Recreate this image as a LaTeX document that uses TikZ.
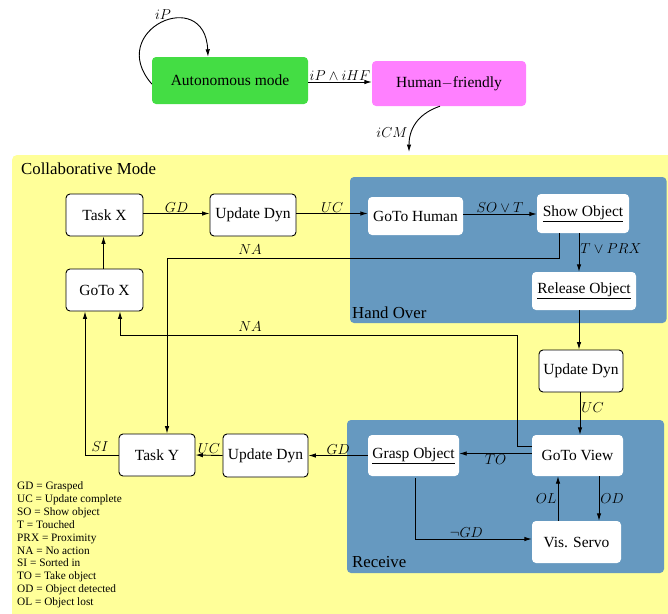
\documentclass[tikz,border=0pt]{standalone}
\usepackage[no-math]{fontspec}
\setmainfont{Liberation Serif}
\usetikzlibrary{arrows.meta,calc}
\definecolor{collabc}{HTML}{FFFF99}
\definecolor{subc}{HTML}{6699C0}
\definecolor{autoc}{HTML}{44DD44}
\definecolor{hfc}{HTML}{FF80FF}
\tikzset{
  arr/.style={draw=black, line width=0.9pt, -{Latex[length=7.5pt,width=4.5pt]}},
  box/.style={draw=black, line width=0.9pt, fill=white, rounded corners=4pt, inner sep=0pt,
    font=\fontsize{15.5}{18}\selectfont},
  wbox/.style={fill=white, rounded corners=4pt, inner sep=0pt, font=\fontsize{15.5}{18}\selectfont},
  topbox/.style={rounded corners=4pt, inner sep=0pt, font=\fontsize{15.5}{18}\selectfont},
  lab/.style={font=\fontsize{14}{16}\selectfont, inner sep=1pt},
  region/.style={font=\fontsize{16.8}{19}\selectfont, inner sep=0pt},
}
\begin{document}
\begin{tikzpicture}[x=1pt,y=-1pt]
\useasboundingbox (0,0) rectangle (668,613);
% regions
\fill[collabc, rounded corners=5pt] (12,625) -- (12,155) -- (680,155) -- (680,625) -- cycle;
\node[region, anchor=west] (collab) at (21,169) {Collaborative Mode};
\fill[subc, rounded corners=4pt] (350,177) rectangle (666.5,323);
\node[region, anchor=west] (hand) at (352,313) {Hand Over};
\fill[subc, rounded corners=4pt] (347,420) rectangle (664,573);
\node[region, anchor=west] (recv) at (352,562) {Receive};
% top nodes
\node[topbox, fill=autoc, minimum width=156pt, minimum height=47pt] (auto) at (230,80.5) {Autonomous mode};
\node[topbox, fill=hfc, minimum width=154pt, minimum height=45pt] (hf) at (449,83.5) {Human$-$friendly};
% collaborative nodes
\node[box, minimum width=77pt, minimum height=42pt] (taskx) at (104.5,215) {Task X};
\node[box, minimum width=86pt, minimum height=42pt] (upd1) at (253,215) {Update Dyn};
\node[box, minimum width=77pt, minimum height=42pt] (gotox) at (104.5,290) {GoTo X};
\node[wbox, minimum width=95pt, minimum height=38pt] (gotoh) at (415.5,216) {GoTo Human};
\node[wbox, minimum width=92pt, minimum height=39pt] (show) at (583,213.5) {\underline{Show Object}};
\node[wbox, minimum width=104pt, minimum height=38pt] (release) at (584,291) {\underline{Release Object}};
\node[box, minimum width=84pt, minimum height=42pt] (upd2) at (581,371) {Update Dyn};
\node[wbox, minimum width=91pt, minimum height=41pt] (gotov) at (577.5,455.5) {GoTo View};
\node[wbox, minimum width=91pt, minimum height=41pt] (grasp) at (413.5,455.5) {\underline{Grasp Object}};
\node[wbox, minimum width=89pt, minimum height=42pt] (vis) at (576.5,542) {Vis. Servo};
\node[box, minimum width=85pt, minimum height=43pt] (upd3) at (265.5,455.5) {Update Dyn};
\node[box, minimum width=76pt, minimum height=42pt] (tasky) at (157,455) {Task Y};
% legend
\node[anchor=north west, align=left, inner sep=0pt, font=\fontsize{11.3}{12.9}\selectfont] (legend) at (17,481.5)
 {GD = Grasped\\UC = Update complete\\SO = Show object\\T = Touched\\PRX = Proximity\\NA = No action\\SI = Sorted in\\TO = Take object\\OD = Object detected\\OL = Object lost};
% top edges
\draw[arr] ([yshift=-3.5pt]auto.west) .. controls +(-47,-54) and +(-3,-72) .. ([xshift=-22pt]auto.north);
\node[lab] (lip) at (163,15) {$iP$};
\draw[arr] ([yshift=-1.5pt]auto.east) -- ([yshift=-1.5pt]auto.east -| hf.west)
  node[lab, midway, above] (liphf) {$iP\wedge iHF$};
\coordinate (icm) at (409,152);
\draw[arr] ([xshift=-9pt]hf.south) .. controls +(-18,6) and +(0,-27) .. (icm);
\node[lab] (licm) at (392,133) {$iCM$};
% collaborative edges
\draw[arr] ([xshift=-1pt]gotox.north) -- ([xshift=-1pt]taskx.south);
\draw[arr] ([yshift=1.5pt]taskx.east) -- ([yshift=1.5pt]taskx.east -| upd1.west)
  node[lab, midway, above] (lgd1) {$GD$};
\draw[arr] ([yshift=1.5pt]upd1.east) -- ([yshift=1.5pt]upd1.east -| gotoh.west)
  node[lab, midway, above] (luc1) {$UC$};
\draw[arr] ([yshift=2pt]gotoh.east) -- ([yshift=2pt]gotoh.east -| show.west)
  node[lab, midway, above] (lsot) {$SO\vee T$};
\draw[arr] ([xshift=-4pt]show.south) -- ([xshift=-4pt]show.south |- release.north)
  node[lab, pos=0.4, right] (ltprx) {$T\vee PRX$};
\coordinate (na1) at (167,258);
\draw[arr] ([xshift=-24pt]show.south) |- (na1) -- ([xshift=10pt]tasky.north);
\node[lab] (lna1) at (250,250) {$NA$};
\draw[arr] ([xshift=-5pt]release.south) -- ([xshift=-5pt]release.south |- upd2.north);
\draw[arr] ([xshift=-1pt]upd2.south) -- ([xshift=-1pt]upd2.south |- gotov.north)
  node[lab, pos=0.35, right] (luc2) {$UC$};
\coordinate (na2) at (517,335);
\draw[arr] ([yshift=9pt]gotov.west) -| (na2) -| ([xshift=15.5pt]gotox.south);
\node[lab] (lna2) at (250,327) {$NA$};
\draw[arr] ([yshift=2pt]gotov.west) -- ([yshift=2pt]gotov.west -| grasp.east)
  node[lab, midway, below] (lto) {$TO$};
\draw[arr] ([xshift=21.5pt]gotov.south) -- ([xshift=21.5pt]gotov.south |- vis.north)
  node[lab, midway, right] (lod) {$OD$};
\draw[arr] ([xshift=-18.5pt]vis.north) -- ([xshift=-18.5pt]vis.north |- gotov.south)
  node[lab, midway, left] (lol) {$OL$};
\draw[arr] ([xshift=1.5pt,yshift=-2pt]grasp.south) |- ([yshift=3pt]vis.west)
  node[lab, pos=0.72, above] (lngd) {$\neg GD$};
\draw[arr] (grasp.west) -- (upd3.east)
  node[lab, midway, above] (lgd2) {$GD$};
\draw[arr] (upd3.west) -- (tasky.east)
  node[lab, midway, above] (luc3) {$UC$};
\draw[arr] (tasky.west) -| ([xshift=-19.5pt]gotox.south);
\node[lab] (lsi) at (100,447) {$SI$};
\end{tikzpicture}
\end{document}
